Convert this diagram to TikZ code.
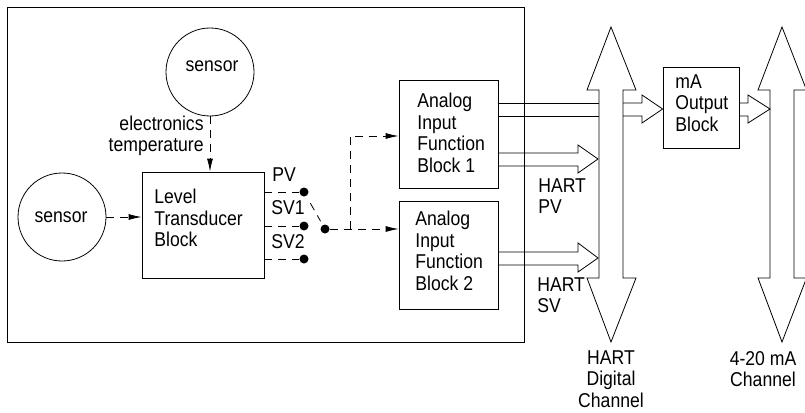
\documentclass[tikz,border=0pt]{standalone}
\usepackage{fontspec}
\setmainfont{Liberation Sans}[FakeStretch=0.88]
\usetikzlibrary{arrows.meta}
\begin{document}
\begin{tikzpicture}[x=1pt,y=-1pt,line width=0.8pt,
  font=\fontsize{20}{21.5}\selectfont,
  box/.style={draw,rectangle,inner sep=0pt},
  txt/.style={inner sep=0pt,align=left,anchor=west},
  ctxt/.style={inner sep=0pt,align=center},
  dline/.style={dash pattern=on 8pt off 6pt},
  arr/.style={-{Latex[length=13pt,width=6pt]}},
  dotn/.style={circle,fill,inner sep=0pt,minimum size=9pt},
  sens/.style={draw,circle,inner sep=0pt,minimum size=88pt}]
\useasboundingbox (0,0) rectangle (805,412);
% outer box
\node[box,minimum width=517pt,minimum height=335pt] (outer) at (265.5,174.5) {};
% sensors
\node[sens] (s1) at (210,72) {};
\node[ctxt] (s1t) at (212,66) {sensor};
\node[sens] (s2) at (62,217) {};
\node[ctxt] (s2t) at (61,217) {sensor};
\node[inner sep=0pt,align=right,anchor=east] (et) at (204,136) {electronics\\temperature};
% level transducer block
\node[box,minimum width=122pt,minimum height=106pt] (lt) at (203,225) {};
\node[txt] (ltt) at (154,218) {Level\\Transducer\\Block};
% analog blocks
\node[box,minimum width=99pt,minimum height=108pt] (a1) at (448.5,134) {};
\node[txt] (a1t) at (417,133) {Analog\\Input\\Function\\Block 1};
\node[box,minimum width=99pt,minimum height=108pt] (a2) at (448.5,255) {};
\node[txt] (a2t) at (415,251) {Analog\\Input\\Function\\Block 2};
% mA output block
\node[box,minimum width=76pt,minimum height=81pt] (ma) at (701,107.5) {};
\node[txt] (mat) at (675,103) {mA\\Output\\Block};
% dashed arrows into level block
\draw[dline,arr] (s1.south) -- (s1.south |- lt.north);
\draw[dline,arr] (s2.east) -- (s2.east -| lt.west);
% switch
\node[dotn] (d1) at (304,192) {};
\node[dotn] (d2) at (304,226) {};
\node[dotn] (d3) at (304,259) {};
\node[dotn] (c) at (325,229) {};
\draw[dline] (lt.east |- d1) -- (d1);
\draw[dline] (lt.east |- d2) -- (d2);
\draw[dline] (lt.east |- d3) -- (d3);
\draw[dline,shorten <=8pt,shorten >=4pt] (d1) -- (c);
\node[txt] (pv) at (272,175) {PV};
\node[txt] (sv1) at (271,208) {SV1};
\node[txt] (sv2) at (271,242) {SV2};
\coordinate (k) at (350,229);
\coordinate (j) at (350,136);
\draw[dline,arr] (c) -- (a2.west |- c);
\draw[dline,arr] (k) -- (j) -- (a1.west |- j);
% HART digital channel double arrow
\draw (611,27) -- (636,90) -- (623,90) -- (623,278) -- (636,278) -- (611,342)
  -- (587,278) -- (599,278) -- (599,90) -- (587,90) -- cycle;
% 4-20 mA channel double arrow
\draw (782,27) -- (806.5,90) -- (794,90) -- (794,278) -- (806.5,278) -- (782,342)
  -- (758,278) -- (770,278) -- (770,90) -- (758,90) -- cycle;
% wide arrow analog 1 -> mA output block
\draw (a1.east |- 0,103) -- (599,103);
\draw (a1.east |- 0,116) -- (599,116);
\draw (623,103) -- (642,103) -- (642,95) -- (ma.west |- 0,109) -- (642,123) -- (642,116) -- (623,116);
% HART PV arrow
\draw (a1.east |- 0,153) -- (578,153) -- (578,145) -- (598,159) -- (578,173) -- (578,166) -- (a1.east |- 0,166);
% HART SV arrow
\draw (a2.east |- 0,252) -- (578,252) -- (578,243) -- (598,258) -- (578,272) -- (578,265) -- (a2.east |- 0,265);
% mA -> 4-20 channel
\draw (ma.east |- 0,103) -- (748,103) -- (748,95) -- (770,109) -- (748,123) -- (748,116) -- (ma.east |- 0,116);
% labels
\node[txt] (hpv) at (538,196) {HART\\PV};
\node[txt] (hsv) at (537,295) {HART\\SV};
\node[ctxt] (hdc) at (611,379) {HART\\Digital\\Channel};
\node[ctxt] (mac) at (763,369) {4-20 mA\\Channel};
\end{tikzpicture}
\end{document}
